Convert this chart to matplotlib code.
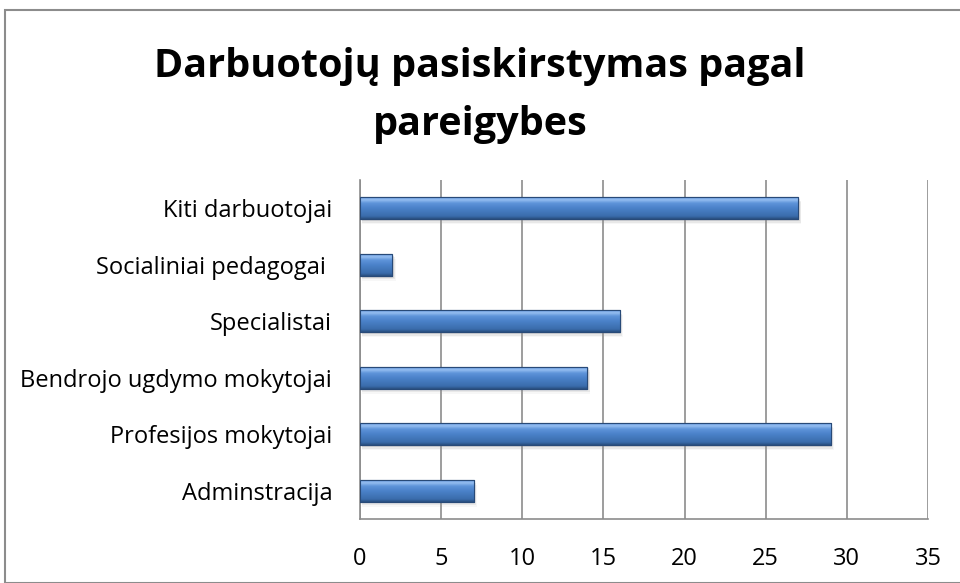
import numpy as np
import matplotlib.pyplot as plt
from matplotlib.patches import Rectangle

categories = ["Adminstracija", "Profesijos mokytojai", "Bendrojo ugdymo mokytojai",
              "Specialistai", "Socialiniai pedagogai ", "Kiti darbuotojai"]
values = [7, 29, 14, 16, 2, 27]
x_ticks = [0, 5, 10, 15, 20, 25, 30, 35]
title_lines = ["Darbuotojų pasiskirstymas pagal", "pareigybes"]

plt.rcParams['font.family'] = ['Open Sans', 'DejaVu Sans']

fig = plt.figure(figsize=(9.6, 5.83), dpi=100)
ax = fig.add_axes([0.375, 0.110, 0.5917, 0.581])

# chart frame
fig.patches.append(Rectangle((5 / 960, 0), 1, 1 - 10 / 583, transform=fig.transFigure,
                             fill=False, edgecolor='#8c8c8c', linewidth=1.5))

y = np.arange(len(categories))
h = 0.39
bars = ax.barh(y, values, height=h, color='#4579bf', edgecolor='#1f3f6a',
               linewidth=0.8, zorder=3)

# vertical gradient to mimic the bevel look
grad = np.linspace(0, 1, 100).reshape(-1, 1)
cmap = plt.matplotlib.colors.LinearSegmentedColormap.from_list(
    'bevel', [(0.0, '#2a4f80'), (0.12, '#3a6cab'), (0.5, '#4c83cb'),
              (0.7, '#5f95da'), (0.84, '#95bdf0'), (0.93, '#72a3e4'), (1.0, '#5b8dd3')])
for b in bars:
    x0, y0 = b.get_x(), b.get_y()
    w, hh = b.get_width(), b.get_height()
    # soft shadow
    for k, a in enumerate([0.22, 0.15, 0.08]):
        ax.add_patch(Rectangle((x0 + 0.1, y0 - 0.03 * (k + 1)), w + 0.05 * k, hh,
                               color='#9a9a9a', alpha=a, zorder=2, linewidth=0))
    im = ax.imshow(grad, extent=[x0, x0 + w, y0, y0 + hh], aspect='auto',
                   cmap=cmap, zorder=4, origin='lower')
    im.set_clip_path(b)
    ax.add_patch(Rectangle((x0, y0), w, hh, fill=False, edgecolor='#284a78',
                           linewidth=0.8, zorder=5))

ax.set_xlim(0, 35)
ax.set_ylim(-0.5, len(categories) - 0.5)
ax.set_xticks(x_ticks)
ax.set_yticks(y)
ax.set_yticklabels(categories)
ax.tick_params(axis='both', length=0, labelsize=17)
ax.tick_params(axis='x', pad=20)
ax.tick_params(axis='y', pad=20)
ax.grid(axis='x', color='#8c8c8c', linewidth=1.2, zorder=0)
for s in ['top', 'right']:
    ax.spines[s].set_visible(False)
for s in ['left', 'bottom']:
    ax.spines[s].set_color('#8c8c8c')
    ax.spines[s].set_linewidth(1.2)

# title, two lines placed by baseline
for line, base in zip(title_lines, [77, 135]):
    fig.text(0.5, 1 - base / 583, line, ha='center', va='baseline',
             fontsize=28.5, fontweight='bold')

fig.savefig('out.png', dpi=100)
